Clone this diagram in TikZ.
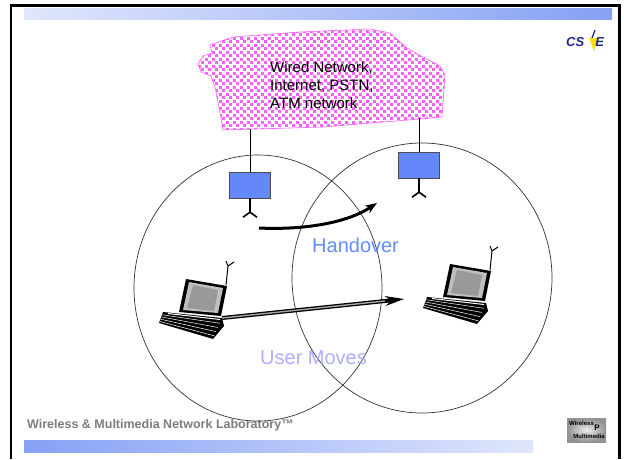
\documentclass[tikz,border=0pt]{standalone}
\usepackage{fontspec}
\setmainfont{Liberation Sans}
\usetikzlibrary{arrows.meta}

\definecolor{bsblue}{RGB}{100,136,250}
\definecolor{hoblue}{RGB}{100,140,250}
\definecolor{mvblue}{RGB}{170,176,255}
\definecolor{dotpink}{RGB}{255,95,255}
\definecolor{barlight}{RGB}{224,230,252}
\definecolor{bardark}{RGB}{134,161,245}
\definecolor{logoblue}{RGB}{30,40,140}
\definecolor{footgray}{RGB}{125,125,125}

% outline of the wired network cloud
\newcommand\netcloudoutline{(210,45) -- (233,37) -- (300,32) -- (370,29) -- (390,33) -- (407,48)
  -- (423,57) -- (440,66) -- (445,75) -- (442,117) -- (420,119) -- (323,127) -- (223,130)
  -- (221,118) -- (215,87) -- (211,76) -- (201,72) -- (198,64) -- (203,56) -- (212,53) -- cycle}

\tikzset{
  bs/.style={draw=black!70, fill=bsblue, minimum width=41pt, minimum height=26pt, inner sep=0pt},
  wire/.style={black, line width=0.8pt},
  ant/.style={black, line width=1.6pt},
  cell/.style={black!80, line width=0.7pt},
  laptop/.pic={
    % antenna
    \draw[line width=1pt] (40,6) -- (42,-13) -- (40,-18) (42,-13) -- (48,-17);
    % keyboard base
    \fill[black] (-23,33) -- (36,39) -- (38,47) -- (27,60) -- (-27,44) -- cycle;
    \draw[white, line width=0.5pt]
      (-24,35.75) -- (33.75,44.25)
      (-24.8,37.95) -- (31.95,48.45)
      (-25.6,40.15) -- (30.15,52.65)
      (-26.4,42.35) -- (28.35,56.85);
    \draw[white, line width=1pt] (-18,34.5) -- (34,40.5);
    % lid and screen
    \fill[black] (0,0) -- (41,7) -- (35,37) -- (-7,33) -- cycle;
    \fill[black!25] (3,3) -- (37,9) -- (32,34) -- (-3,31) -- cycle;
    \fill[black!40] (7,6) -- (32,11) -- (28,32) -- (1,29) -- cycle;
    \coordinate (-port) at (36,39);
  }
}

\begin{document}
\begin{tikzpicture}[x=1pt,y=-1pt]
\useasboundingbox (0,0) rectangle (624,459);
\fill[white] (0,0) rectangle (624,459);

% slide frame
\fill[black] (9.5,4) rectangle (12,459);
\fill[black] (9.5,4) rectangle (620.5,6.5);
\fill[black] (618,4) rectangle (620.5,459);

% title / footer bars
\shade[left color=barlight, right color=bardark] (24,8) rectangle (612,19);
\shade[left color=bardark, right color=barlight] (24,440) rectangle (533,452);

% CSIE logo
\fill[yellow!85!orange] (589,38) -- (598,38) -- (594,51) -- cycle;
\draw[logoblue, line width=1.3pt] (592,38) -- (595,30);
\node[font=\bfseries\itshape\fontsize{13}{13}\selectfont, text=logoblue, anchor=base west, inner sep=0pt] (csie) at (566,46) {CS\hspace{11pt}E};

% footer
\node[font=\bfseries\fontsize{12.5}{14}\selectfont, text=footgray, anchor=base west, inner sep=0pt] (foot) at (27,428) {Wireless \& Multimedia Network Laboratory™};
\shade[inner color=gray!15, outer color=gray!85] (567,418) rectangle (606,442);
\node[font=\bfseries\fontsize{6}{6}\selectfont, anchor=west, inner sep=0pt] (wl) at (569,423) {Wireless};
\node[font=\bfseries\fontsize{8}{8}\selectfont, inner sep=0pt] (wp) at (597,428) {P};
\node[font=\bfseries\fontsize{6}{6}\selectfont, anchor=east, inner sep=0pt] (mm) at (605,436) {Multimedia};

% wired network cloud: staggered pink dots inside the outline
\begin{scope}
  \clip \netcloudoutline;
  \foreach \yy in {26,33,...,133} {
    \foreach \xx in {194,201,...,450} {
      \fill[dotpink] (\xx,\yy) rectangle ++(3.2,3.2);
      \fill[dotpink] (\xx+3.5,\yy+3.5) rectangle ++(3.2,3.2);
    }
  }
\end{scope}
\draw[dotpink, line width=0.6pt] \netcloudoutline;
\node[align=left, font=\fontsize{15}{18}\selectfont, anchor=north west, inner sep=0pt] (net) at (270,61)
  {Wired Network,\\Internet, PSTN,\\ATM network};
\coordinate (w1) at (250,129);
\coordinate (w2) at (419,118);

% radio cells
\draw[cell] (258,288) ellipse [x radius=124pt, y radius=133pt];
\draw[cell] (422,278) ellipse [x radius=130pt, y radius=135pt];

% base stations
\node[bs] (bs1) at (250,185) {};
\node[bs] (bs2) at (419,165) {};
\draw[wire] (bs1.north) -- (w1);
\draw[wire] (bs2.north) -- (w2);
\draw[ant] (bs1.south) -- ++(0,14) coordinate (a1);
\draw[ant] (a1) -- ++(-7,5) (a1) -- ++(7,5);
\draw[ant] (bs2.south) -- ++(0,14) coordinate (a2);
\draw[ant] (a2) -- ++(-7,5) (a2) -- ++(7,5);

% mobile terminals
\pic (lap1) at (186,279) {laptop};
\pic (lap2) at (450,264) {laptop};

% handover arrow
\coordinate (h1) at (259,228);
\coordinate (h2) at (377,203);
\draw[line width=3pt, -{Stealth[length=12pt,width=9pt,line width=0pt]}] (h1) .. controls (300,230) and (345,224) .. (h2);
\node[font=\fontsize{20}{24}\selectfont, text=hoblue, anchor=base west, inner sep=0pt] (ho) at (312,252) {Handover};

% user movement arrow
\coordinate (m2) at (404,299);
\draw[line width=4pt, -{Stealth[length=19pt,width=10pt,line width=0pt]}] (lap1-port) -- (m2);
\draw[black!35, line width=1.4pt, shorten >=19pt] (lap1-port) -- (m2);
\node[font=\fontsize{20}{24}\selectfont, text=mvblue, anchor=base west, inner sep=0pt] (um) at (260,364) {User Moves};
\end{tikzpicture}
\end{document}
